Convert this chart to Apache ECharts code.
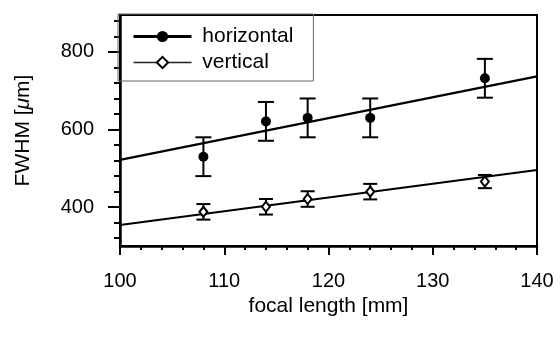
<!DOCTYPE html>
<html>
<head>
<meta charset="utf-8">
<script src="https://cdn.jsdelivr.net/npm/echarts@6/dist/echarts.min.js"></script>
<style>
  html, body { margin: 0; padding: 0; background: #fff; }
  #chart { width: 560px; height: 337px; }
</style>
</head>
<body>
<div id="chart"></div>
<script>
const focal = [108, 114, 118, 124, 135];
const hValues = [530, 621, 630, 630, 732];
const hErrors = [50, 50, 50, 50, 50];
const vValues = [388, 401, 421, 440, 466];
const vErrors = [20, 20, 20, 20, 17];

// linear fits
const fitX = [100, 140];
const hFit = [522, 737];
const vFit = [354, 496];

// ticks
const yTicks = [400, 600, 800];
const yMinorTicks = [320, 360, 440, 480, 520, 560, 640, 680, 720, 760, 840, 880];

const FONT = 'Liberation Sans';
const FS = 20;
const chart = echarts.init(document.getElementById('chart'), null, { renderer: 'canvas' });

const zip = (xs, ys) => xs.map((x, i) => [x, ys[i]]);
const errData = (vals, errs) => focal.map((x, i) => [x, vals[i] - errs[i], vals[i] + errs[i]]);

// error bar: vertical stem plus two caps
function errorBar(halfCap) {
  return (params, api) => {
    const top = api.coord([api.value(0), api.value(2)]);
    const bot = api.coord([api.value(0), api.value(1)]);
    const st = { stroke: '#000', lineWidth: 2 };
    return {
      type: 'group',
      children: [
        { type: 'line', shape: { x1: top[0], y1: top[1], x2: bot[0], y2: bot[1] }, style: st },
        { type: 'line', shape: { x1: top[0] - halfCap, y1: top[1], x2: top[0] + halfCap, y2: top[1] }, style: st },
        { type: 'line', shape: { x1: bot[0] - halfCap, y1: bot[1], x2: bot[0] + halfCap, y2: bot[1] }, style: st }
      ]
    };
  };
}

chart.setOption({
  animation: false,
  backgroundColor: '#fff',
  textStyle: { fontFamily: FONT, color: '#000' },
  grid: {
    left: 120, right: 23, top: 15, bottom: 91,
    show: true, borderColor: '#000', borderWidth: 2, backgroundColor: 'transparent'
  },
  legend: {
    orient: 'vertical',
    left: 118, top: 14,
    padding: [12, 20, 8, 14],
    itemWidth: 58, itemHeight: 14, itemGap: 5,
    borderColor: '#666', borderWidth: 1,
    textStyle: { fontFamily: FONT, fontSize: 21, color: '#000', lineHeight: 21 },
    formatter: name => ' ' + name,
    data: [
      { name: 'horizontal', lineStyle: { color: '#000', width: 3, opacity: 1 } },
      { name: 'vertical', lineStyle: { color: '#222', width: 1.5, opacity: 1 } }
    ]
  },
  xAxis: {
    type: 'value', min: 100, max: 140, interval: 10,
    name: 'focal length [mm]', nameLocation: 'middle', nameGap: 50,
    nameTextStyle: { fontFamily: FONT, fontSize: 21, color: '#000' },
    axisLine: { lineStyle: { color: '#000', width: 2.5 } },
    axisTick: { inside: false, length: 9, lineStyle: { color: '#000', width: 2 } },
    minorTick: { show: true, splitNumber: 5, length: 4, lineStyle: { color: '#000', width: 2 } },
    axisLabel: { margin: 25, fontSize: FS, color: '#000', fontFamily: FONT },
    splitLine: { show: false }
  },
  yAxis: [
    {
      type: 'value', min: 300, max: 895,
      name: '{a|FWHM [}{b|μ}{a|m]}', nameLocation: 'middle', nameGap: 86, nameRotate: 90,
      nameTextStyle: {
        rich: {
          a: { fontFamily: FONT, fontSize: 21, color: '#000' },
          b: { fontFamily: FONT, fontSize: 21, color: '#000', fontStyle: 'italic' }
        }
      },
      axisLine: { show: true, lineStyle: { color: '#000', width: 2.5 } },
      axisTick: { show: true, inside: false, length: 12, customValues: yTicks, lineStyle: { color: '#000', width: 2 } },
      axisLabel: { customValues: yTicks, margin: 26, fontSize: FS, color: '#000', fontFamily: FONT },
      splitLine: { show: false }
    },
    {
      // minor ticks only
      type: 'value', min: 300, max: 895, position: 'left', offset: 0,
      axisLine: { show: false },
      axisTick: { show: true, inside: false, length: 6, customValues: yMinorTicks, lineStyle: { color: '#000', width: 2 } },
      axisLabel: { show: false },
      splitLine: { show: false }
    }
  ],
  series: [
    {
      type: 'line', data: zip(fitX, hFit), symbol: 'none',
      lineStyle: { color: '#000', width: 2.2 }, z: 1, silent: true
    },
    {
      type: 'line', data: zip(fitX, vFit), symbol: 'none',
      lineStyle: { color: '#000', width: 2 }, z: 1, silent: true
    },
    {
      type: 'custom', data: errData(hValues, hErrors), renderItem: errorBar(8),
      encode: { x: 0, y: [1, 2] }, z: 2, silent: true
    },
    {
      type: 'custom', data: errData(vValues, vErrors), renderItem: errorBar(7),
      encode: { x: 0, y: [1, 2] }, z: 2, silent: true
    },
    {
      name: 'horizontal', type: 'line', data: zip(focal, hValues),
      symbol: 'circle', symbolSize: 10,
      itemStyle: { color: '#000' },
      lineStyle: { opacity: 0 }, z: 3
    },
    {
      name: 'vertical', type: 'line', data: zip(focal, vValues),
      symbol: 'diamond', symbolSize: [8, 10],
      itemStyle: { color: '#fff', borderColor: '#000', borderWidth: 2 },
      lineStyle: { opacity: 0 }, z: 3
    }
  ]
});
</script>
</body>
</html>
